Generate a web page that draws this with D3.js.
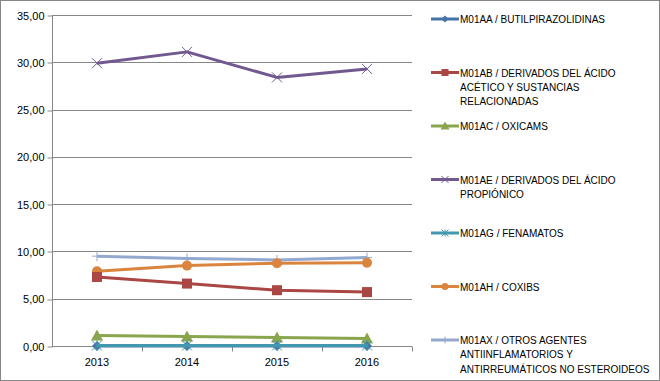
<!DOCTYPE html>
<html>
<head>
<meta charset="utf-8">
<script src="https://cdn.jsdelivr.net/npm/d3@7"></script>
<style>
  body { margin: 0; background: #fff; }
  text { font-family: "Liberation Sans", Arial, sans-serif; fill: #000; }
</style>
</head>
<body>
<div id="container"></div>
<script>
const width = 660;
const height = 381;

const years = ["2013", "2014", "2015", "2016"];
const seriesNames = [
    "M01AA / BUTILPIRAZOLIDINAS",
    "M01AB / DERIVADOS DEL ÁCIDO ACÉTICO Y SUSTANCIAS RELACIONADAS",
    "M01AC / OXICAMS",
    "M01AE / DERIVADOS DEL ÁCIDO PROPIÓNICO",
    "M01AG / FENAMATOS",
    "M01AH / COXIBS",
    "M01AX / OTROS AGENTES ANTIINFLAMATORIOS Y ANTIRREUMÁTICOS NO ESTEROIDEOS"
];
const legendLines = [
    ["M01AA / BUTILPIRAZOLIDINAS"],
    ["M01AB / DERIVADOS DEL ÁCIDO", "ACÉTICO Y SUSTANCIAS", "RELACIONADAS"],
    ["M01AC / OXICAMS"],
    ["M01AE / DERIVADOS DEL ÁCIDO", "PROPIÓNICO"],
    ["M01AG / FENAMATOS"],
    ["M01AH / COXIBS"],
    ["M01AX / OTROS AGENTES", "ANTIINFLAMATORIOS Y", "ANTIRREUMÁTICOS NO ESTEROIDEOS"]
];
const m01aa = [0.0, 0.0, 0.0, 0.0];
const m01ab = [7.3, 6.6, 5.9, 5.7];
const m01ac = [1.1, 1.0, 0.9, 0.8];
const m01ae = [29.9, 31.1, 28.4, 29.3];
const m01ag = [0.05, 0.05, 0.05, 0.05];
const m01ah = [7.9, 8.5, 8.75, 8.8];
const m01ax = [9.5, 9.25, 9.1, 9.35];
const yTicks = [0, 5, 10, 15, 20, 25, 30, 35];

const colors = ["#4572A7", "#AA4643", "#89A54E", "#71588F", "#4198AF", "#DB843D", "#93A9CF"];
const markers = ["diamond", "square", "triangle", "x", "star", "circle", "plus"];
const allValues = [m01aa, m01ab, m01ac, m01ae, m01ag, m01ah, m01ax];

const series = seriesNames.map((name, i) => ({
    name: name,
    color: colors[i],
    marker: markers[i],
    values: allValues[i]
}));

const margin = { left: 52, top: 15, right: 248, bottom: 35 };

let svg = d3.select("#container").append("svg")
    .attr("width", width)
    .attr("height", height);

svg.append("rect")
    .attr("x", 0.5).attr("y", 0.5)
    .attr("width", width - 1).attr("height", height - 1)
    .attr("fill", "#fff")
    .attr("stroke", "#868686");

let x = d3.scaleBand().domain(years).range([margin.left, width - margin.right]);
let y = d3.scaleLinear().domain([0, 35]).range([height - margin.bottom, margin.top]);

// grid lines
svg.append("g")
    .selectAll("line")
    .data(yTicks.slice(1))
    .join("line")
    .attr("x1", margin.left).attr("x2", width - margin.right)
    .attr("y1", d => Math.round(y(d)) + 0.5).attr("y2", d => Math.round(y(d)) + 0.5)
    .attr("stroke", "#868686");

// y axis
let yAxis = svg.append("g")
    .attr("transform", `translate(${margin.left + 0.5},0.5)`)
    .call(d3.axisLeft(y).tickValues(yTicks).tickSize(5)
        .tickFormat(d => d3.format(".2f")(d).replace(".", ",")));
yAxis.selectAll("path, line").attr("stroke", "#868686");
yAxis.select(".domain").attr("d", `M0,${y(35)}V${y(0)}`);
yAxis.selectAll("line").attr("transform", d => `translate(0,${Math.round(y(d)) - y(d)})`);
yAxis.selectAll("text").attr("font-size", 11).attr("x", -8)
    .style("font-family", "'Liberation Sans', Arial, sans-serif");

// x axis
let x0 = Math.round(y(0)) + 0.5;
svg.append("line")
    .attr("x1", margin.left).attr("x2", width - margin.right)
    .attr("y1", x0).attr("y2", x0)
    .attr("stroke", "#868686");
svg.append("g")
    .selectAll("line")
    .data(years.slice(1).concat(["end"]))
    .join("line")
    .attr("x1", (d, i) => Math.round(x(years[i]) + x.bandwidth()) + 0.5)
    .attr("x2", (d, i) => Math.round(x(years[i]) + x.bandwidth()) + 0.5)
    .attr("y1", x0).attr("y2", x0 + 5)
    .attr("stroke", "#868686");
svg.append("g")
    .selectAll("text")
    .data(years)
    .join("text")
    .attr("x", d => x(d) + x.bandwidth() / 2)
    .attr("y", x0 + 19)
    .attr("text-anchor", "middle")
    .attr("font-size", 11)
    .text(d => d);

function drawMarker(g, type, color, s) {
    if (type == "diamond") {
        g.append("path").attr("d", `M0,${-s}L${s},0L0,${s}L${-s},0Z`).attr("fill", color);
    } else if (type == "square") {
        g.append("rect").attr("x", -s).attr("y", -s).attr("width", 2 * s).attr("height", 2 * s)
            .attr("fill", color);
    } else if (type == "triangle") {
        g.append("path").attr("d", `M0,${-s - 1}L${s + 1},${s}L${-s - 1},${s}Z`).attr("fill", color);
    } else if (type == "circle") {
        g.append("circle").attr("r", s).attr("fill", color);
    } else if (type == "x") {
        g.append("path").attr("d", `M${-s},${-s}L${s},${s}M${-s},${s}L${s},${-s}`)
            .attr("stroke", color).attr("stroke-width", 1).attr("fill", "none");
    } else if (type == "star") {
        g.append("path").attr("d", `M${-s},${-s}L${s},${s}M${-s},${s}L${s},${-s}M0,${-s}V${s}`)
            .attr("stroke", color).attr("stroke-width", 1).attr("fill", "none");
    } else if (type == "plus") {
        g.append("path").attr("d", `M${-s},0H${s}M0,${-s}V${s}`)
            .attr("stroke", color).attr("stroke-width", 1).attr("fill", "none");
    }
}

let line = d3.line()
    .x((d, i) => x(years[i]) + x.bandwidth() / 2)
    .y(d => y(d));

let drawOrder = [6, 5, 1, 2, 3, 0, 4];
drawOrder.forEach(si => {
    let s = series[si];
    let g = svg.append("g");
    g.append("path")
        .attr("d", line(s.values))
        .attr("fill", "none")
        .attr("stroke", s.color)
        .attr("stroke-width", 3)
        .attr("stroke-linejoin", "round");
    s.values.forEach((v, i) => {
        let m = g.append("g")
            .attr("transform", "translate(" + (x(years[i]) + x.bandwidth() / 2) + "," + y(v) + ")");
        drawMarker(m, s.marker, s.color, 5);
    });
});

// legend
let legend = svg.append("g");
series.forEach((s, i) => {
    let ly = 19 + i * 53.5;
    let g = legend.append("g").attr("transform", `translate(0,${ly})`);
    g.append("line")
        .attr("x1", 431).attr("x2", 459)
        .attr("stroke", s.color).attr("stroke-width", 3);
    let mg = g.append("g").attr("transform", "translate(445,0)");
    drawMarker(mg, s.marker, s.color, 3.5);
    let t = g.append("text")
        .attr("x", 460)
        .attr("y", 4)
        .attr("font-size", 10);
    legendLines[i].forEach((ln, j) => {
        t.append("tspan")
            .attr("x", 460)
            .attr("dy", j == 0 ? 0 : 14.3)
            .text(ln);
    });
});
</script>
</body>
</html>
